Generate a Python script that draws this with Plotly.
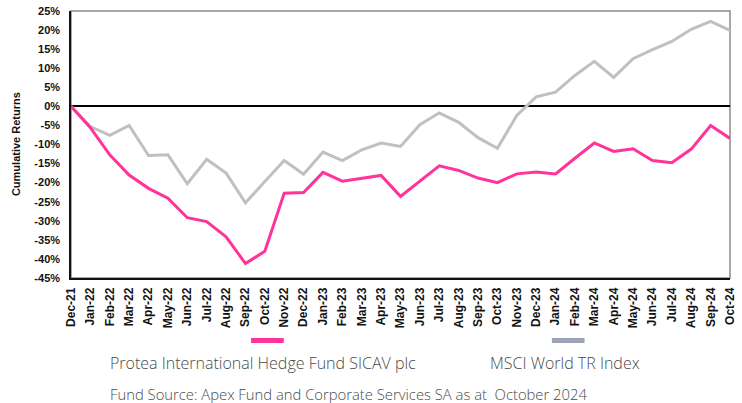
import plotly.graph_objects as go

months = ["Dec-21", "Jan-22", "Feb-22", "Mar-22", "Apr-22", "May-22", "Jun-22", "Jul-22",
          "Aug-22", "Sep-22", "Oct-22", "Nov-22", "Dec-22", "Jan-23", "Feb-23", "Mar-23",
          "Apr-23", "May-23", "Jun-23", "Jul-23", "Aug-23", "Sep-23", "Oct-23", "Nov-23",
          "Dec-23", "Jan-24", "Feb-24", "Mar-24", "Apr-24", "May-24", "Jun-24", "Jul-24",
          "Aug-24", "Sep-24", "Oct-24"]

fund_name = "Protea International Hedge Fund SICAV plc"
fund_values = [0.0, -5.6, -12.7, -18.0, -21.5, -24.1, -29.2, -30.2, -34.2, -41.2, -38.0,
               -22.8, -22.6, -17.3, -19.6, -18.9, -18.1, -23.6, -19.5, -15.6, -16.8, -18.8,
               -20.0, -17.7, -17.2, -17.7, -13.6, -9.6, -11.8, -11.1, -14.2, -14.8, -11.2,
               -5.0, -8.4]

index_name = "MSCI World TR Index"
index_values = [0.0, -5.3, -7.6, -5.0, -12.9, -12.7, -20.3, -13.9, -17.5, -25.3, -19.7,
                -14.2, -17.8, -12.0, -14.2, -11.4, -9.6, -10.5, -4.8, -1.7, -4.2, -8.2,
                -11.0, -2.4, 2.5, 3.7, 8.1, 11.8, 7.6, 12.5, 14.9, 17.0, 20.2, 22.3, 19.9]

y_ticks = [25, 20, 15, 10, 5, 0, -5, -10, -15, -20, -25, -30, -35, -40, -45]
y_tick_labels = ["25%", "20%", "15%", "10%", "5%", "0%", "-5%", "-10%", "-15%", "-20%",
                 "-25%", "-30%", "-35%", "-40%", "-45%"]

y_title = "Cumulative Returns"
footer = "Fund Source: Apex Fund and Corporate Services SA as at  October 2024"

PINK = "#FF3399"
GRAY = "#C0C0C0"
SWATCH_GRAY = "#9CA3B4"

fig = go.Figure()
fig.add_trace(go.Scatter(x=months, y=index_values, mode="lines", name=index_name,
                         line=dict(color=GRAY, width=3), showlegend=False))
fig.add_trace(go.Scatter(x=months, y=fund_values, mode="lines", name=fund_name,
                         line=dict(color=PINK, width=3), showlegend=False))

W, H = 742, 403
L, T = 71, 11
R = W - 737
B = H - 278
pw = W - L - R
ph = H - T - B


def px(x):
    return (x - L) / pw


def py(y):
    return (H - B - y) / ph


tick_font = dict(family="Liberation Sans, Arial, sans-serif", size=11, color="#111111",
                 weight="bold")
xtick_font = dict(family="Liberation Sans, Arial, sans-serif", size=12, color="#111111",
                  weight="bold")
fig.update_layout(
    width=W, height=H,
    margin=dict(l=L, r=R, t=T, b=B, pad=0),
    paper_bgcolor="white", plot_bgcolor="white",
    xaxis=dict(type="category", range=[0, len(months) - 1], showgrid=False,
               tickangle=-90, tickfont=xtick_font, showline=True, linecolor="#111111",
               linewidth=1.5, ticks="", ticklabelstandoff=3),
    yaxis=dict(range=[-45, 25], tickvals=y_ticks, ticktext=y_tick_labels, showgrid=False,
               zeroline=True, zerolinecolor="#000000", zerolinewidth=1.5,
               tickfont=tick_font, showline=True, linecolor="#111111", linewidth=1.5,
               ticks="", ticklabelstandoff=7, ticklabeloverflow="allow"),
    showlegend=False,
)

fig.add_shape(type="rect", xref="paper", yref="paper", x0=0, x1=1, y0=0, y1=1,
              line=dict(color="#8a8a8a", width=1.5), layer="below")

# legend swatches
fig.add_shape(type="line", xref="paper", yref="paper", x0=px(253), x1=px(286),
              y0=py(340.5), y1=py(340.5), line=dict(color=PINK, width=5))
fig.add_shape(type="line", xref="paper", yref="paper", x0=px(557), x1=px(590),
              y0=py(340.5), y1=py(340.5), line=dict(color=SWATCH_GRAY, width=5))

legend_font = dict(family="Open Sans, sans-serif", size=16, color="#4a4a4a", weight=300)
fig.add_annotation(text=fund_name, xref="paper", yref="paper", x=px(108), y=py(363),
                   xanchor="left", yanchor="middle", showarrow=False, font=legend_font)
fig.add_annotation(text=index_name, xref="paper", yref="paper", x=px(492), y=py(363),
                   xanchor="left", yanchor="middle", showarrow=False, font=legend_font)
fig.add_annotation(text=footer, xref="paper", yref="paper", x=px(108), y=py(394),
                   xanchor="left", yanchor="middle", showarrow=False,
                   font=dict(family="Open Sans, sans-serif", size=14.8, color="#4a4a4a",
                             weight=300))

fig.add_annotation(text=y_title, xref="paper", yref="paper", x=px(15), y=0.5,
                   xanchor="center", yanchor="middle", textangle=-90, showarrow=False,
                   font=dict(family="Liberation Sans, Arial, sans-serif", size=11,
                             color="#111111", weight="bold"))

fig.write_html("out.html", config={"displayModeBar": False},
               post_script="document.body.style.margin='0';"
                           "document.body.style.overflow='hidden';")
